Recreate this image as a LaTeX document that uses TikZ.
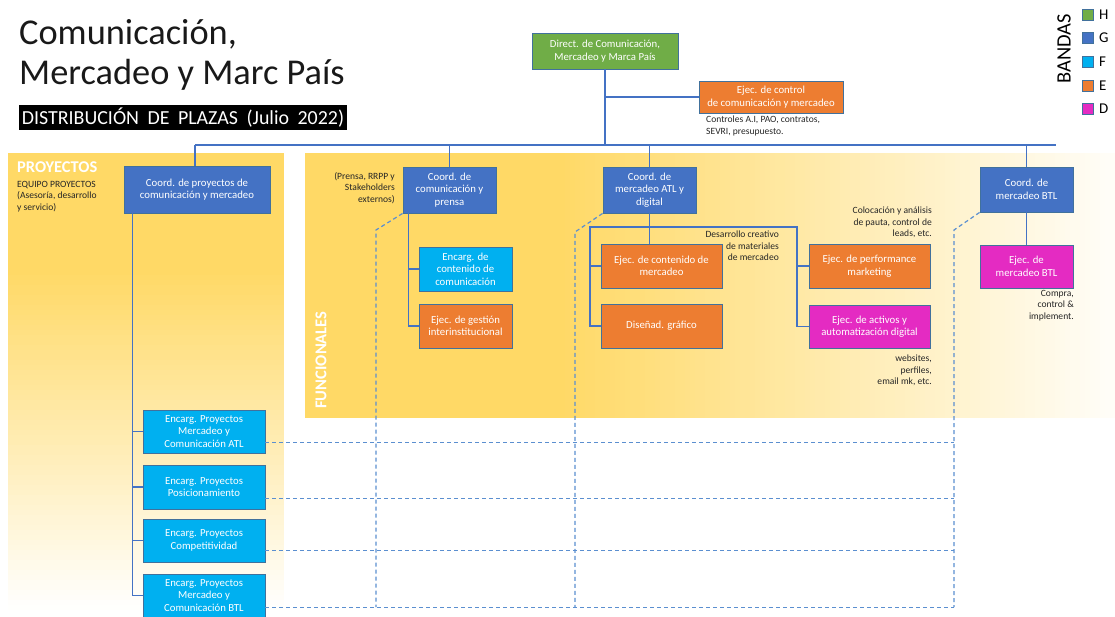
\documentclass[tikz,border=0pt]{standalone}
\usepackage{fontspec}
\setmainfont{Carlito}
\usetikzlibrary{calc}
\definecolor{cgreen}{HTML}{70AD47}
\definecolor{cblue}{HTML}{4472C4}
\definecolor{clblue}{HTML}{00B0F0}
\definecolor{corange}{HTML}{ED7D31}
\definecolor{cmag}{HTML}{E42BC2}
\definecolor{cyel}{HTML}{FFD966}
\definecolor{cedge}{HTML}{41719C}
\definecolor{cline}{HTML}{4472C4}
\definecolor{cdash}{HTML}{5B8FD0}
\definecolor{cnote}{HTML}{262626}
\begin{document}
\begin{tikzpicture}[x=1bp,y=-1bp,
  box/.style={draw=cedge, line width=0.9bp, text=white, align=center, inner sep=1bp, font=\fontsize{10.8}{12.5}\selectfont},
  bx/.style 2 args={minimum width=#1bp, minimum height=#2bp},
  note/.style={inner sep=0, text=cnote, font=\fontsize{9.6}{11.6}\selectfont},
  conn/.style={draw=cline, line width=1.6bp},
  dsh/.style={draw=cdash, line width=1.2bp, dash pattern=on 4bp off 3bp},
  lsq/.style={draw=cedge, line width=0.8bp, minimum size=11bp, inner sep=0},
  ltxt/.style={anchor=west, inner sep=0, text=black, font=\fontsize{15}{16}\selectfont}
]
\useasboundingbox (0,0) rectangle (1115,617);
% panels
\fill[cyel] (8,153) rectangle (284,271);
\foreach \i in {0,...,68} {
  \pgfmathtruncatemacro\p{100-\i*100/68}
  \fill[cyel!\p!white] (8,{270+\i*5}) rectangle (284,{275.6+\i*5});
}
\fill[cyel] (305,153) rectangle (561,418);
\foreach \i in {0,...,110} {
  \pgfmathtruncatemacro\p{100-\i*95/110}
  \fill[cyel!\p!white] ({560+\i*5},153) rectangle ({565.6+\i*5},418);
}

% titles
\node[anchor=base west, inner sep=0, text=black!90, font=\fontsize{36.5}{40}\selectfont] (t1) at (19,45) {Comunicación,};
\node[anchor=base west, inner sep=0, text=black!90, font=\fontsize{36.5}{40}\selectfont] (t2) at (19,85) {Mercadeo y Marc País};
\node[fill=black, text=white, inner sep=0, minimum width=328bp, minimum height=25bp, font=\fontsize{20}{22}\selectfont] (sub) at (183,117.5) {\spaceskip=8.5bp DISTRIBUCIÓN DE PLAZAS (Julio 2022)};

\node[anchor=base west, inner sep=0, text=white, font=\bfseries\fontsize{16.5}{18}\selectfont] (proy) at (17,173) {PROYECTOS};
\node[note, anchor=north west, align=left] (eq) at (17,181) {EQUIPO PROYECTOS\\(Asesoría, desarrollo\\y servicio)};
\node[rotate=90, text=white, font=\bfseries\fontsize{16.6}{18}\selectfont, inner sep=0] (func) at (321,360) {FUNCIONALES};

% legend
\node[rotate=90, inner sep=0, font=\fontsize{20.5}{22}\selectfont] (bandas) at (1064,49) {BANDAS};
\node[lsq, fill=cgreen] (lH) at (1088,15) {};
\node[lsq, fill=cblue] (lG) at (1088,38) {};
\node[lsq, fill=clblue] (lF) at (1088,61.5) {};
\node[lsq, fill=corange] (lE) at (1088,86) {};
\node[lsq, fill=cmag] (lD) at (1088,108.5) {};
\node[ltxt] (lHt) at (1099,15) {H};
\node[ltxt] (lGt) at (1099,38) {G};
\node[ltxt] (lFt) at (1099,61.5) {F};
\node[ltxt] (lEt) at (1099,86) {E};
\node[ltxt] (lDt) at (1099,108.5) {D};

% boxes
\node[box, bx={146}{36}, fill=cgreen] (dir) at (605,51) {Direct. de Comunicación,\\Mercadeo y Marca País};
\node[box, bx={144}{32}, fill=corange] (ctl) at (771,97) {Ejec. de control\\de comunicación y mercadeo};
\node[box, bx={146}{47}, fill=cblue] (cproy) at (197,189.5) {Coord. de proyectos de\\comunicación y mercadeo};
\node[box, bx={93}{46}, fill=cblue] (cprensa) at (449.5,190) {Coord. de\\comunicación y\\prensa};
\node[box, bx={93}{46}, fill=cblue] (catl) at (649.5,190) {Coord. de\\mercadeo ATL y\\digital};
\node[box, bx={93}{45}, fill=cblue] (cbtl) at (1026.5,189.5) {Coord. de\\mercadeo BTL};
\node[box, bx={93}{44}, fill=clblue] (enccont) at (465.5,269) {Encarg. de\\contenido de\\comunicación};
\node[box, bx={93}{44}, fill=corange] (ejgest) at (465.5,326) {Ejec. de gestión\\interinstitucional};
\node[box, bx={121}{44}, fill=corange] (ejcontm) at (661.5,266) {Ejec. de contenido de\\mercadeo};
\node[box, bx={121}{44}, fill=corange] (disen) at (661.5,326) {Diseñad. gráfico};
\node[box, bx={121}{44}, fill=corange] (ejperf) at (869.5,266) {Ejec. de performance\\marketing};
\node[box, bx={121}{43}, fill=cmag] (ejact) at (869.5,326.5) {Ejec. de activos y\\automatización digital};
\node[box, bx={93}{43}, fill=cmag] (ejbtl) at (1026.5,266.5) {Ejec. de\\mercadeo BTL};
\node[box, bx={122}{43}, fill=clblue] (ep1) at (204,431.5) {Encarg. Proyectos\\Mercadeo y\\Comunicación ATL};
\node[box, bx={122}{44}, fill=clblue] (ep2) at (204,487) {Encarg. Proyectos\\Posicionamiento};
\node[box, bx={122}{43}, fill=clblue] (ep3) at (204,540.5) {Encarg. Proyectos\\Competitividad};
\node[box, bx={122}{43}, fill=clblue] (ep4) at (204,595.5) {Encarg. Proyectos\\Mercadeo y\\Comunicación BTL};

% notes
\node[note, anchor=north west, align=left] (nctl) at (706,116) {Controles A.I, PAO, contratos,\\SEVRI, presupuesto.};
\node[note, anchor=north east, align=right] (nprensa) at (395,172) {(Prensa, RRPP y\\Stakeholders\\externos)};
\node[note, anchor=north east, align=right] (ndes) at (779,231) {Desarrollo creativo\\de materiales\\de mercadeo};
\node[note, anchor=north east, align=right] (ncol) at (932,207) {Colocación y análisis\\de pauta, control de\\leads, etc.};
\node[note, anchor=north east, align=right] (nweb) at (932,355) {websites,\\perfiles,\\email mk, etc.};
\node[note, anchor=north east, align=right] (nbtl) at (1074,290) {Compra,\\control \&\\implement.};

% connectors
\coordinate (busL) at (195,145);
\coordinate (busR) at (1056,145);
\draw[conn] (busL) -- (busR);
\draw[conn] (dir.south) -- (dir.south |- busL);
\draw[conn] (ctl.west) -- (ctl.west -| dir.south);
\draw[conn] (busL) -- (busL |- cproy.north);
\draw[conn] (cprensa.north) -- (cprensa.north |- busL);
\draw[conn] (catl.north) -- (catl.north |- busL);
\draw[conn] (cbtl.north) -- (cbtl.north |- busL);

\coordinate (tp) at ($(cproy.south west)+(9,0)$);
\draw[conn] (tp) |- (ep4.west);
\draw[conn] (tp |- ep1.west) -- (ep1.west);
\draw[conn] (tp |- ep2.west) -- (ep2.west);
\draw[conn] (tp |- ep3.west) -- (ep3.west);

\coordinate (tc) at ($(cprensa.south west)+(6,0)$);
\draw[conn] (tc) |- (ejgest.west);
\draw[conn] (tc |- enccont.west) -- (enccont.west);

\coordinate (atlL) at (590,227);
\coordinate (atlR) at (797,227);
\draw[conn] (catl.south) -- (catl.south |- ejcontm.north);
\draw[conn] (disen.west) -| (atlL) -- (atlR) |- (ejact.west);
\draw[conn] (ejcontm.west) -- (ejcontm.west -| atlL);
\draw[conn] (ejperf.west) -- (ejperf.west -| atlR);
\draw[conn] (cbtl.south) -- (ejbtl.north);

% dashed
\coordinate (d1) at (376,230); \coordinate (d1b) at (376,607);
\coordinate (d2) at (575,232); \coordinate (d2b) at (575,607);
\coordinate (d3) at (954,230); \coordinate (d3b) at (954,607);
\draw[dsh] (cprensa.south west) -- (d1) -- (d1b);
\draw[dsh] (catl.south west) -- (d2) -- (d2b);
\draw[dsh] (cbtl.south west) -- (d3) -- (d3b);
\coordinate (h1) at ($(ep1.south east)+(0,-11)$);
\coordinate (h2) at ($(ep2.south east)+(0,-11)$);
\coordinate (h3) at ($(ep3.south east)+(0,-12)$);
\coordinate (h4) at ($(ep4.south east)+(0,-10)$);
\draw[dsh] (h1) -- (h1 -| d3);
\draw[dsh] (h2) -- (h2 -| d3);
\draw[dsh] (h3) -- (h3 -| d3);
\draw[dsh] (h4) -- (h4 -| d3);
\end{tikzpicture}
\end{document}
